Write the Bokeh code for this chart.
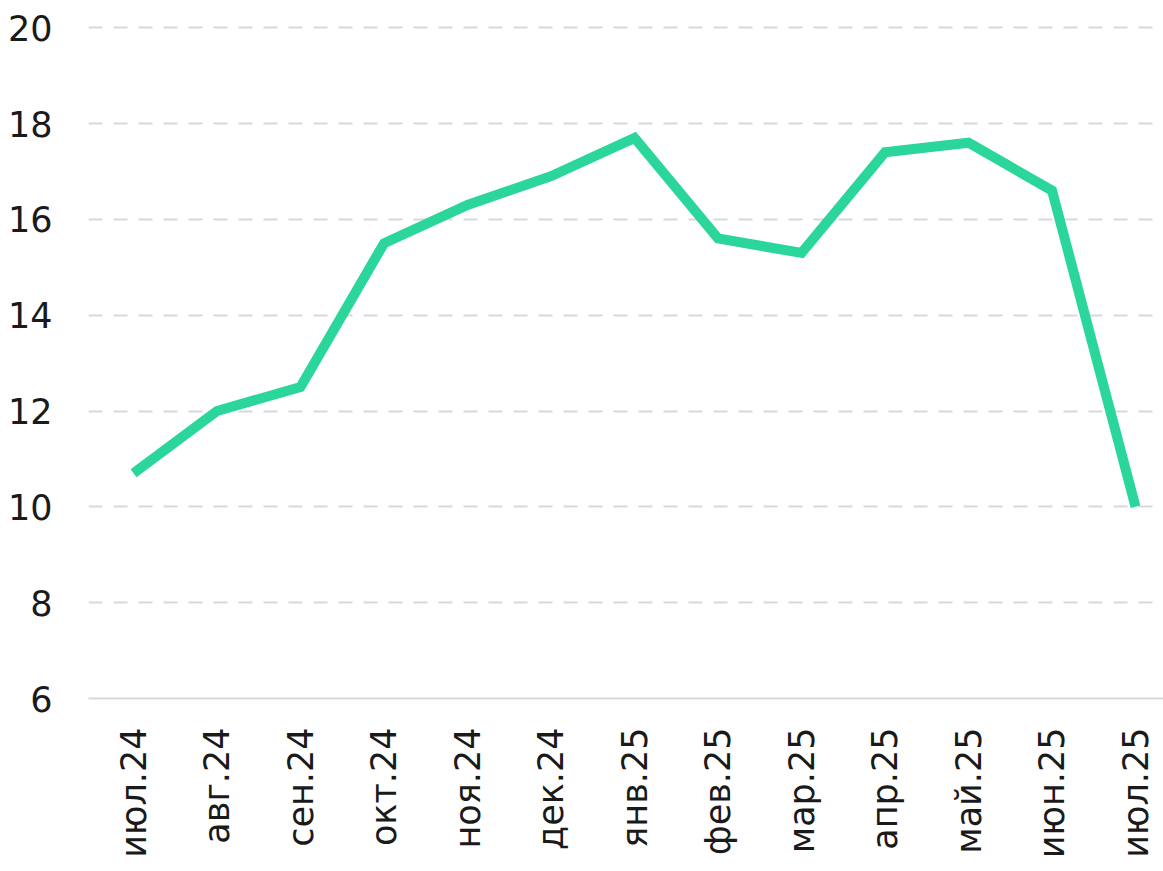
from bokeh.plotting import figure
from bokeh.models import Range1d, FixedTicker
from bokeh.embed import file_html
from bokeh.resources import INLINE

months = ["июл.24", "авг.24", "сен.24", "окт.24", "ноя.24", "дек.24", "янв.25",
          "фев.25", "мар.25", "апр.25", "май.25", "июн.25", "июл.25"]
values = [10.7, 12.0, 12.5, 15.5, 16.3, 16.9, 17.7, 15.6, 15.3, 17.4, 17.6, 16.6, 10.0]
y_ticks = [6, 8, 10, 12, 14, 16, 18, 20]

xs = list(range(len(months)))

p = figure(width=1163, height=871, output_backend="svg", toolbar_location=None,
           x_range=Range1d(-0.539, 12.335), y_range=Range1d(6, 20.4),
           min_border_left=88, min_border_right=0, min_border_top=8, min_border_bottom=173)
p.outline_line_color = None
p.background_fill_color = "white"

p.line(xs, values, line_color="#2BD69B", line_width=10, line_join="miter")

font = "DejaVu Sans"
# y axis
p.yaxis.ticker = FixedTicker(ticks=y_ticks)
p.yaxis.axis_line_color = None
p.yaxis.major_tick_line_color = None
p.yaxis.minor_tick_line_color = None
p.yaxis.major_tick_out = 0
p.yaxis.major_label_standoff = 36
p.yaxis.major_label_text_font = font
p.yaxis.major_label_text_font_size = "35px"
p.yaxis.major_label_text_color = "#1a1a1a"

# x axis
p.xaxis.ticker = FixedTicker(ticks=xs)
p.xaxis.major_label_overrides = {i: m for i, m in enumerate(months)}
p.xaxis.major_label_orientation = 1.5707963
p.xaxis.axis_line_color = "#d9d9d9"
p.xaxis.axis_line_width = 2
p.xaxis.major_tick_line_color = None
p.xaxis.minor_tick_line_color = None
p.xaxis.major_tick_out = 0
p.xaxis.major_label_standoff = 29
p.xaxis.major_label_text_font = font
p.xaxis.major_label_text_font_size = "35px"
p.xaxis.major_label_text_color = "#1a1a1a"

p.xgrid.grid_line_color = None
p.ygrid.ticker = FixedTicker(ticks=y_ticks[1:])
p.ygrid.grid_line_color = "#d9d9d9"
p.ygrid.grid_line_width = 2
p.ygrid.grid_line_dash = "14 11"

open("out.html", "w").write(file_html(p, INLINE))
